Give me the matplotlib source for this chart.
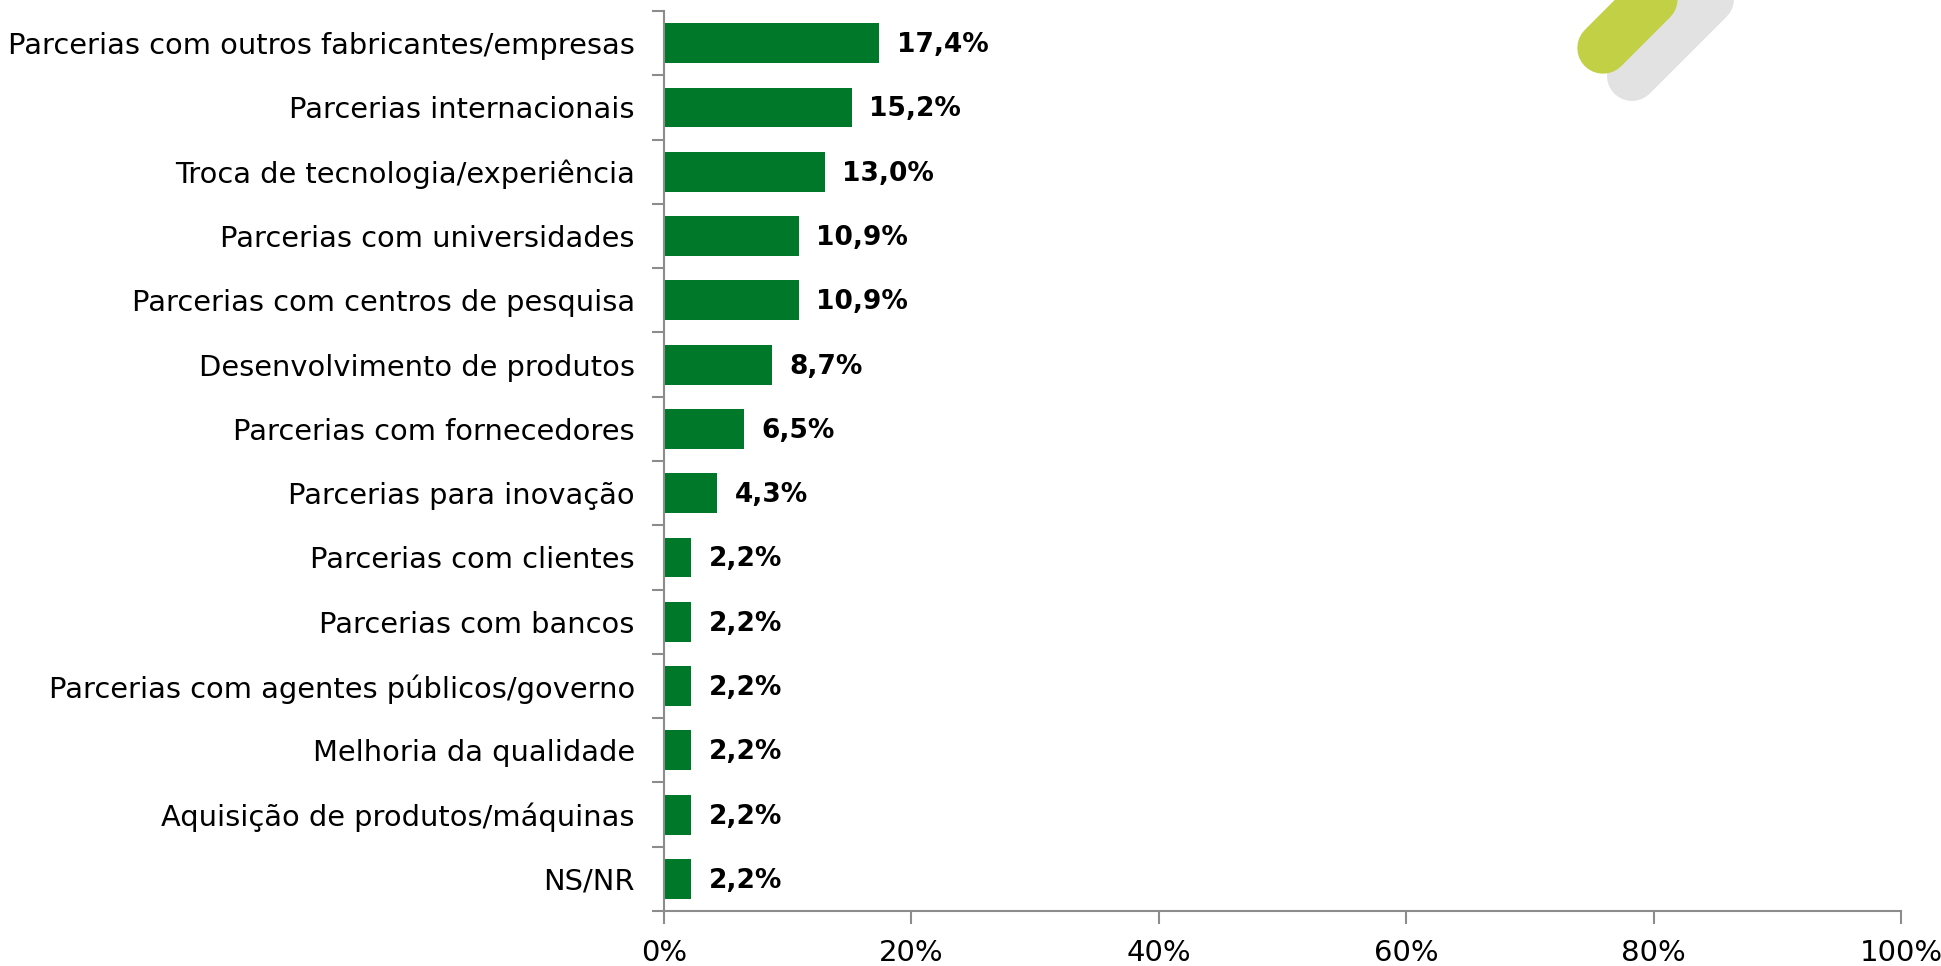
import matplotlib
matplotlib.use("Agg")
import matplotlib.pyplot as plt
from matplotlib.lines import Line2D
from matplotlib.ticker import FuncFormatter

# dados
categorias = [
    "Parcerias com outros fabricantes/empresas",
    "Parcerias internacionais",
    "Troca de tecnologia/experiência",
    "Parcerias com universidades",
    "Parcerias com centros de pesquisa",
    "Desenvolvimento de produtos",
    "Parcerias com fornecedores",
    "Parcerias para inovação",
    "Parcerias com clientes",
    "Parcerias com bancos",
    "Parcerias com agentes públicos/governo",
    "Melhoria da qualidade",
    "Aquisição de produtos/máquinas",
    "NS/NR",
]
valores = [17.4, 15.2, 13.0, 10.9, 10.9, 8.7, 6.5, 4.3, 2.2, 2.2, 2.2, 2.2, 2.2, 2.2]
ticks_x = [0, 20, 40, 60, 80, 100]

plt.rcParams["font.family"] = ["DejaVu Sans"]

fig = plt.figure(figsize=(19.41, 9.66), dpi=100)
ax = fig.add_axes([0.3421, 0.0569, 0.6373, 0.9317])

pos = list(range(len(categorias)))
ax.barh(pos, valores, height=0.62, color="#00782A")
for p, v in zip(pos, valores):
    ax.text(v + 1.4, p + 0.03, f"{v:.1f}%".replace(".", ","), va="center", ha="left",
            fontsize=19, fontweight="bold", color="black")

ax.set_ylim(len(categorias) - 0.5, -0.5)
ax.set_xlim(0, 100)
ax.set_yticks([p - 0.5 for p in pos] + [len(categorias) - 0.5])
ax.set_yticklabels([])
ax.set_yticks(pos, minor=True)
ax.set_yticklabels(categorias, minor=True, fontsize=20.8)
ax.tick_params(axis="y", which="minor", length=0, pad=21)
ax.tick_params(axis="y", which="major", length=9, width=1.5, color="#8c8c8c")
ax.set_xticks(ticks_x)
ax.xaxis.set_major_formatter(FuncFormatter(lambda x, _: f"{x:.0f}%"))
ax.tick_params(axis="x", length=9, width=1.5, color="#8c8c8c", labelsize=21, pad=11)

for s in ["top", "right"]:
    ax.spines[s].set_visible(False)
for s in ["left", "bottom"]:
    ax.spines[s].set_color("#8c8c8c")
    ax.spines[s].set_linewidth(1.5)

# enfeite no canto superior direito
W, H = 1941, 966
def px(x, y):
    return x / W, 1 - y / H

sx, sy = zip(px(1632, 76), px(1760, -52))
fig.add_artist(Line2D(sx, sy, transform=fig.transFigure, color="#e2e2e2",
                      linewidth=36, solid_capstyle="round"))
gx, gy = zip(px(1603, 48), px(1731, -80))
fig.add_artist(Line2D(gx, gy, transform=fig.transFigure, color="#C1D045",
                      linewidth=37, solid_capstyle="round"))

fig.savefig("out.png", dpi=100)
